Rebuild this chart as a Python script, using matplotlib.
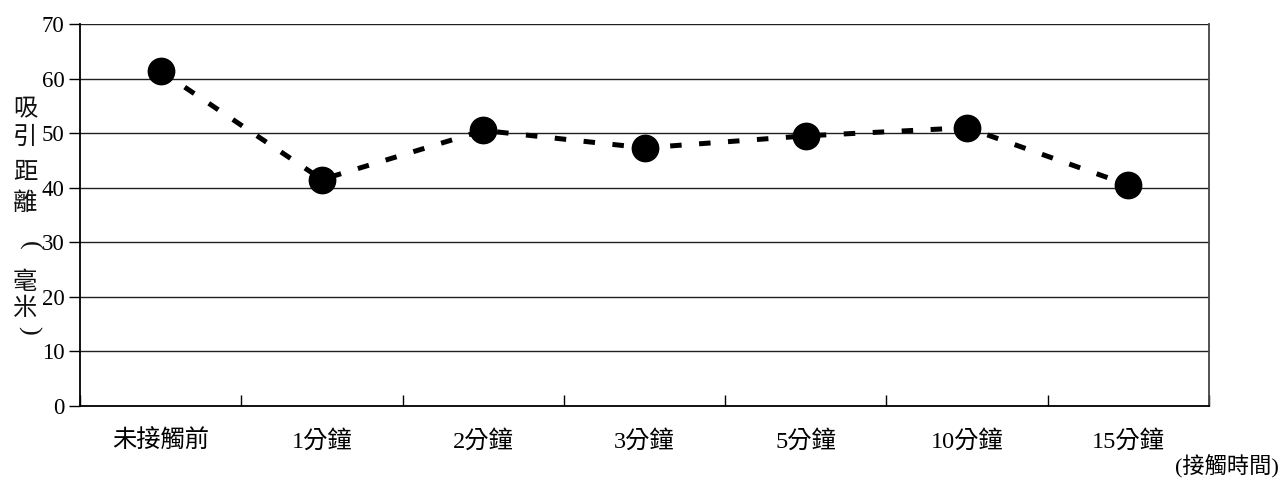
import matplotlib
matplotlib.use("Agg")
import matplotlib.pyplot as plt
from matplotlib.ticker import FixedLocator, NullFormatter

# Data
categories = ["未接觸前", "1分鐘", "2分鐘", "3分鐘", "5分鐘", "10分鐘", "15分鐘"]
distance_mm = [61.4, 41.5, 50.5, 47.3, 49.5, 51.0, 40.5]
y_ticks = [0, 10, 20, 30, 40, 50, 60, 70]
y_label = "吸引距離(毫米)"
x_note = "(接觸時間)"

FONT = ["Liberation Serif", "Noto Sans CJK TC", "DejaVu Sans"]
plt.rcParams["font.family"] = FONT

W, H = 1284, 479
fig = plt.figure(figsize=(W / 100, H / 100), dpi=100)
ax = fig.add_axes([80 / W, 1 - 406 / H, (1209 - 80) / W, (406 - 24) / H])

x = list(range(len(categories)))
ax.plot(x, distance_mm, color="black", linewidth=3.6, linestyle=(0, (2.3, 3.5)),
        marker="o", markersize=19, markerfacecolor="black", markeredgecolor="black",
        zorder=3)

ax.set_xlim(-0.5, len(categories) - 0.5)
ax.set_ylim(0, 70)

# Horizontal gridlines
ax.set_yticks(y_ticks)
ax.set_yticklabels([str(v) for v in y_ticks], fontsize=16.5)
ax.yaxis.grid(True, color="#202020", linewidth=1.0)
ax.set_axisbelow(True)
ax.tick_params(axis="y", direction="out", length=8, width=1, pad=3, colors="black")

# Category labels centered, tick marks at category boundaries pointing upward
ax.set_xticks(x)
ax.set_xticklabels(categories, fontsize=17.5)
ax.tick_params(axis="x", which="major", length=0, pad=17)
ax.xaxis.set_minor_locator(FixedLocator([i - 0.5 for i in range(len(categories) + 1)]))
ax.xaxis.set_minor_formatter(NullFormatter())
ax.tick_params(axis="x", which="minor", direction="in", length=8, width=1, colors="black")

for side in ["left", "bottom", "right"]:
    ax.spines[side].set_color("black")
    ax.spines[side].set_linewidth(1.3)
ax.spines["right"].set_color("#444444")
ax.spines["top"].set_visible(False)

# Vertical stacked axis title, one glyph per line; brackets turned sideways
label_y = [109, 137, 172, 203, 245, 282, 308, 330]
cjk = ["Noto Sans CJK TC", "DejaVu Sans"]
for ch, yy in zip(y_label, label_y):
    if ch in "()":
        fig.text(29 / W, 1 - yy / H, ch, fontsize=19, rotation=-90,
                 ha="center", va="center", family=["Liberation Serif"],
                 color="#111111")
    else:
        fig.text(25 / W, 1 - yy / H, ch, fontsize=17.5, ha="center", va="center",
                 family=cjk, color="#111111")

fig.text(1 - 5 / W, 1 - 467 / H, x_note, fontsize=16, ha="right", va="center")

fig.savefig("out.png", dpi=100)
